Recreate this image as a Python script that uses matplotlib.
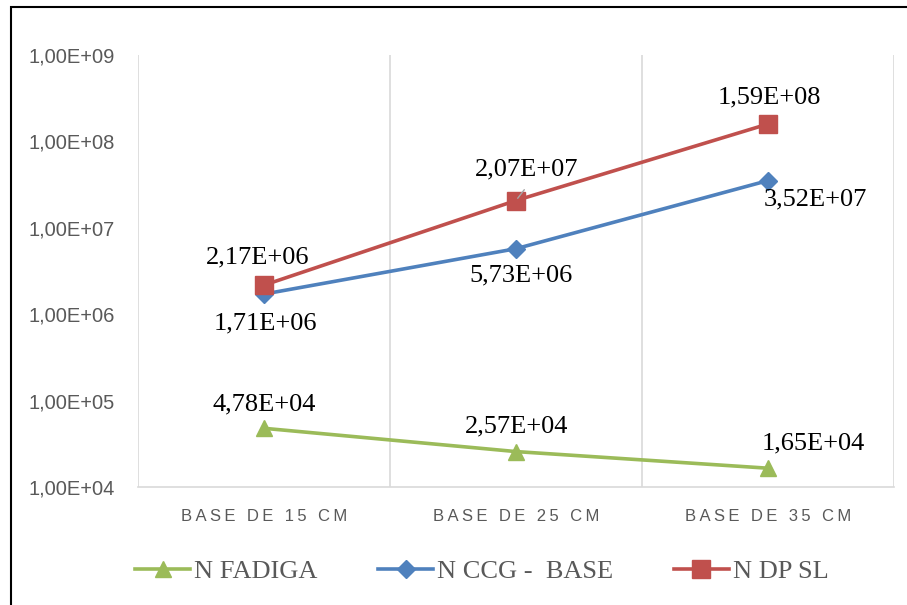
import numpy as np
import matplotlib.pyplot as plt
from matplotlib.patches import Rectangle
from matplotlib.font_manager import FontProperties

# Dados
categorias = ["BASE DE 15 CM", "BASE DE 25 CM", "BASE DE 35 CM"]
n_fadiga = [4.78e4, 2.57e4, 1.65e4]
n_ccg = [1.71e6, 5.73e6, 3.52e7]
n_dpsl = [2.17e6, 2.07e7, 1.59e8]
y_ticks = [1e4, 1e5, 1e6, 1e7, 1e8, 1e9]

def fmt(v):
    s = "%.2E" % v
    return s.replace(".", ",")

fig = plt.figure(figsize=(9.07, 6.05), dpi=100)
ax = fig.add_axes([138/907, 1 - 487/605, (894 - 138)/907, (487 - 55)/605])

x = np.arange(len(categorias))
verde, azul, vermelho = "#9BBB59", "#4F81BD", "#C0504D"

ax.plot(x, n_fadiga, color=verde, lw=2.6, marker="^", ms=12, label="N FADIGA")
ax.plot(x, n_ccg, color=azul, lw=2.6, marker="D", ms=9.5, label="N CCG -  BASE")
ax.plot(x, n_dpsl, color=vermelho, lw=2.6, marker="s", ms=12.5, label="N DP SL")

ax.set_yscale("log")
ax.set_ylim(1e4, 1e9)
ax.set_xlim(-0.5, 2.5)
ax.set_yticks(y_ticks)
ax.set_yticklabels([fmt(v) for v in y_ticks], family="Liberation Sans",
                   fontsize=14.5, color="#595959")
ax.yaxis.set_minor_locator(plt.NullLocator())
ax.set_xticks(x)
ax.set_xticklabels(["\u2009".join(c) for c in categorias], family="Liberation Sans",
                   fontsize=12, color="#595959")
ax.tick_params(length=0)
ax.tick_params(axis="y", pad=17)
ax.tick_params(axis="x", pad=16)

for s in ["left", "top", "right"]:
    ax.spines[s].set_visible(False)
ax.spines["bottom"].set_color("#D9D9D9")
ax.spines["bottom"].set_linewidth(1.2)
for gx in [-0.5, 0.5, 1.5, 2.5]:
    ax.axvline(gx, color="#D9D9D9", lw=1.2, zorder=0)

# rótulos de dados (deslocamento em pixels)
desl_fadiga = [(0, 24), (1, 25), (45, 25)]
desl_ccg = [(1, -29), (5, -27), (47, -19)]
desl_dpsl = [(-6, 28), (11, 31), (1, 27)]
for serie, desl in [(n_fadiga, desl_fadiga), (n_ccg, desl_ccg), (n_dpsl, desl_dpsl)]:
    for xi, v, d in zip(x, serie, desl):
        ax.annotate(fmt(v), (xi, v), xytext=d, textcoords="offset pixels",
                    ha="center", va="center", family="Liberation Serif",
                    fontsize=19, color="black")
# linha guia do rótulo 2,07E+07
ax.annotate("", (1, n_dpsl[1]), xytext=(10, 13), textcoords="offset pixels",
            arrowprops=dict(arrowstyle="-", color="#A6A6A6", lw=1))

fonte_leg = FontProperties(family="Liberation Serif", size=19)
leg = fig.legend(loc="center", bbox_to_anchor=(482/907, 1 - 571/605), ncol=3,
                 frameon=False, handlelength=2.08, columnspacing=2.3,
                 handletextpad=0.15, prop=fonte_leg, labelcolor="#595959")

# moldura
fig.patches.append(Rectangle((11/907, -0.05), 1.0, 1 - 7/605 + 0.05, transform=fig.transFigure,
                             fill=False, edgecolor="black", lw=1.5))

fig.savefig("out.png", dpi=100)
